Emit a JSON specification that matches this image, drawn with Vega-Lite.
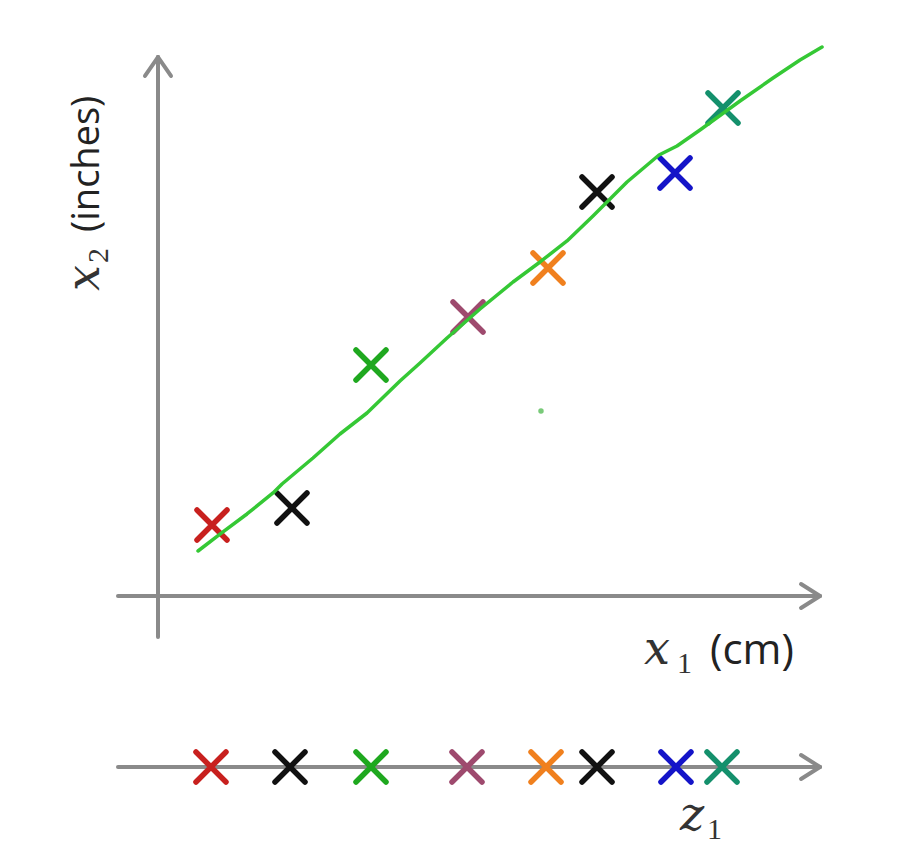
{
  "$schema": "https://vega.github.io/schema/vega-lite/v6.json",
  "width": 913,
  "height": 853,
  "autosize": {"type": "fit", "contains": "padding"},
  "padding": 0,
  "background": "white",
  "config": {"view": {"stroke": null}},
  "data": {"values": [{}]},
  "datasets": {
    "pts": [
      {"x1": 0.9, "x2": 1.183, "c": "red"},
      {"x1": 2.233, "x2": 1.467, "c": "black"},
      {"x1": 3.55, "x2": 3.85, "c": "green"},
      {"x1": 5.167, "x2": 4.65, "c": "mauve"},
      {"x1": 6.5, "x2": 5.467, "c": "orange"},
      {"x1": 7.317, "x2": 6.733, "c": "black"},
      {"x1": 8.617, "x2": 7.05, "c": "blue"},
      {"x1": 9.417, "x2": 8.133, "c": "teal"}
    ],
    "proj": [
      {"z1": 0.883, "c": "red"},
      {"z1": 2.2, "c": "black"},
      {"z1": 3.55, "c": "green"},
      {"z1": 5.15, "c": "mauve"},
      {"z1": 6.467, "c": "orange"},
      {"z1": 7.317, "c": "black"},
      {"z1": 8.633, "c": "blue"},
      {"z1": 9.4, "c": "teal"}
    ],
    "curve": [
      {"i": 0, "x1": 0.667, "x2": 0.75},
      {"i": 1, "x1": 1.033, "x2": 1.033},
      {"i": 2, "x1": 1.483, "x2": 1.367},
      {"i": 3, "x1": 1.917, "x2": 1.717},
      {"i": 4, "x1": 2.067, "x2": 1.867},
      {"i": 5, "x1": 2.583, "x2": 2.3},
      {"i": 6, "x1": 3.033, "x2": 2.7},
      {"i": 7, "x1": 3.483, "x2": 3.05},
      {"i": 8, "x1": 4.033, "x2": 3.583},
      {"i": 9, "x1": 4.367, "x2": 3.883},
      {"i": 10, "x1": 4.817, "x2": 4.3},
      {"i": 11, "x1": 5.367, "x2": 4.783},
      {"i": 12, "x1": 5.917, "x2": 5.233},
      {"i": 13, "x1": 6.367, "x2": 5.567},
      {"i": 14, "x1": 6.817, "x2": 5.917},
      {"i": 15, "x1": 7.25, "x2": 6.333},
      {"i": 16, "x1": 7.817, "x2": 6.9},
      {"i": 17, "x1": 8.35, "x2": 7.35},
      {"i": 18, "x1": 8.65, "x2": 7.5},
      {"i": 19, "x1": 9.033, "x2": 7.767},
      {"i": 20, "x1": 9.7, "x2": 8.25},
      {"i": 21, "x1": 10.25, "x2": 8.633},
      {"i": 22, "x1": 10.7, "x2": 8.933},
      {"i": 23, "x1": 11.067, "x2": 9.15}
    ]
  },
  "layer": [
    {
      "mark": {"type": "rule", "color": "#8a8a8a", "strokeWidth": 4, "strokeCap": "round"},
      "encoding": {
        "x": {"datum": 0, "type": "quantitative", "scale": {"domain": [-2.6333, 12.5833], "nice": false, "zero": false}, "axis": null},
        "y": {"datum": -0.683, "type": "quantitative", "scale": {"domain": [-4.2833, 9.9333], "nice": false, "zero": false}, "axis": null},
        "x2": {"datum": 0},
        "y2": {"datum": 8.983}
      }
    },
    {
      "mark": {"type": "rule", "color": "#8a8a8a", "strokeWidth": 4, "strokeCap": "round"},
      "encoding": {
        "x": {"datum": -0.2167, "type": "quantitative", "scale": {"domain": [-2.6333, 12.5833], "nice": false, "zero": false}, "axis": null},
        "y": {"datum": 8.667, "type": "quantitative", "scale": {"domain": [-4.2833, 9.9333], "nice": false, "zero": false}, "axis": null},
        "x2": {"datum": 0},
        "y2": {"datum": 8.983}
      }
    },
    {
      "mark": {"type": "rule", "color": "#8a8a8a", "strokeWidth": 4, "strokeCap": "round"},
      "encoding": {
        "x": {"datum": 0.2167, "type": "quantitative", "scale": {"domain": [-2.6333, 12.5833], "nice": false, "zero": false}, "axis": null},
        "y": {"datum": 8.667, "type": "quantitative", "scale": {"domain": [-4.2833, 9.9333], "nice": false, "zero": false}, "axis": null},
        "x2": {"datum": 0},
        "y2": {"datum": 8.983}
      }
    },
    {
      "mark": {"type": "rule", "color": "#8a8a8a", "strokeWidth": 4, "strokeCap": "round"},
      "encoding": {
        "x": {"datum": -0.667, "type": "quantitative", "scale": {"domain": [-2.6333, 12.5833], "nice": false, "zero": false}, "axis": null},
        "y": {"datum": 0, "type": "quantitative", "scale": {"domain": [-4.2833, 9.9333], "nice": false, "zero": false}, "axis": null},
        "x2": {"datum": 11.033},
        "y2": {"datum": 0}
      }
    },
    {
      "mark": {"type": "rule", "color": "#8a8a8a", "strokeWidth": 4, "strokeCap": "round"},
      "encoding": {
        "x": {"datum": 10.717, "type": "quantitative", "scale": {"domain": [-2.6333, 12.5833], "nice": false, "zero": false}, "axis": null},
        "y": {"datum": 0.2, "type": "quantitative", "scale": {"domain": [-4.2833, 9.9333], "nice": false, "zero": false}, "axis": null},
        "x2": {"datum": 11.033},
        "y2": {"datum": 0}
      }
    },
    {
      "mark": {"type": "rule", "color": "#8a8a8a", "strokeWidth": 4, "strokeCap": "round"},
      "encoding": {
        "x": {"datum": 10.717, "type": "quantitative", "scale": {"domain": [-2.6333, 12.5833], "nice": false, "zero": false}, "axis": null},
        "y": {"datum": -0.2, "type": "quantitative", "scale": {"domain": [-4.2833, 9.9333], "nice": false, "zero": false}, "axis": null},
        "x2": {"datum": 11.033},
        "y2": {"datum": 0}
      }
    },
    {
      "mark": {"type": "rule", "color": "#8a8a8a", "strokeWidth": 4, "strokeCap": "round"},
      "encoding": {
        "x": {"datum": -0.667, "type": "quantitative", "scale": {"domain": [-2.6333, 12.5833], "nice": false, "zero": false}, "axis": null},
        "y": {"datum": -2.85, "type": "quantitative", "scale": {"domain": [-4.2833, 9.9333], "nice": false, "zero": false}, "axis": null},
        "x2": {"datum": 11.033},
        "y2": {"datum": -2.85}
      }
    },
    {
      "mark": {"type": "rule", "color": "#8a8a8a", "strokeWidth": 4, "strokeCap": "round"},
      "encoding": {
        "x": {"datum": 10.717, "type": "quantitative", "scale": {"domain": [-2.6333, 12.5833], "nice": false, "zero": false}, "axis": null},
        "y": {"datum": -2.65, "type": "quantitative", "scale": {"domain": [-4.2833, 9.9333], "nice": false, "zero": false}, "axis": null},
        "x2": {"datum": 11.033},
        "y2": {"datum": -2.85}
      }
    },
    {
      "mark": {"type": "rule", "color": "#8a8a8a", "strokeWidth": 4, "strokeCap": "round"},
      "encoding": {
        "x": {"datum": 10.717, "type": "quantitative", "scale": {"domain": [-2.6333, 12.5833], "nice": false, "zero": false}, "axis": null},
        "y": {"datum": -3.05, "type": "quantitative", "scale": {"domain": [-4.2833, 9.9333], "nice": false, "zero": false}, "axis": null},
        "x2": {"datum": 11.033},
        "y2": {"datum": -2.85}
      }
    },
    {
      "data": {"name": "pts"},
      "mark": {"type": "point", "shape": "M-1,-1L1,1M-1,1L1,-1", "filled": false, "size": 900, "strokeWidth": 5.5, "strokeCap": "round", "opacity": 1},
      "encoding": {
        "x": {"field": "x1", "type": "quantitative", "scale": {"domain": [-2.6333, 12.5833], "nice": false, "zero": false}, "axis": null},
        "y": {"field": "x2", "type": "quantitative", "scale": {"domain": [-4.2833, 9.9333], "nice": false, "zero": false}, "axis": null},
        "color": {"field": "c", "type": "nominal", "legend": null, "scale": {"domain": ["red", "black", "green", "mauve", "orange", "blue", "teal"], "range": ["#c8201e", "#111111", "#1fa81f", "#9e4a6e", "#f0801e", "#1414c8", "#14906c"]}}
      }
    },
    {
      "data": {"name": "proj"},
      "mark": {"type": "point", "shape": "M-1,-1L1,1M-1,1L1,-1", "filled": false, "size": 900, "strokeWidth": 5.5, "strokeCap": "round", "opacity": 1},
      "encoding": {
        "x": {"field": "z1", "type": "quantitative", "scale": {"domain": [-2.6333, 12.5833], "nice": false, "zero": false}, "axis": null},
        "y": {"datum": -2.85, "type": "quantitative", "scale": {"domain": [-4.2833, 9.9333], "nice": false, "zero": false}, "axis": null},
        "color": {"field": "c", "type": "nominal", "legend": null, "scale": {"domain": ["red", "black", "green", "mauve", "orange", "blue", "teal"], "range": ["#c8201e", "#111111", "#1fa81f", "#9e4a6e", "#f0801e", "#1414c8", "#14906c"]}}
      }
    },
    {
      "data": {"name": "curve"},
      "mark": {"type": "line", "color": "#35c835", "strokeWidth": 3.5, "strokeCap": "round", "strokeJoin": "round"},
      "encoding": {
        "x": {"field": "x1", "type": "quantitative", "scale": {"domain": [-2.6333, 12.5833], "nice": false, "zero": false}, "axis": null},
        "y": {"field": "x2", "type": "quantitative", "scale": {"domain": [-4.2833, 9.9333], "nice": false, "zero": false}, "axis": null},
        "order": {"field": "i", "type": "quantitative"}
      }
    },
    {
      "mark": {"type": "point", "filled": true, "shape": "circle", "size": 30, "color": "#4cb84c", "opacity": 0.75},
      "encoding": {
        "x": {"datum": 6.383, "type": "quantitative", "scale": {"domain": [-2.6333, 12.5833], "nice": false, "zero": false}, "axis": null},
        "y": {"datum": 3.083, "type": "quantitative", "scale": {"domain": [-4.2833, 9.9333], "nice": false, "zero": false}, "axis": null}
      }
    },
    {
      "mark": {"type": "text", "text": "x", "font": "DejaVu Serif", "fontStyle": "italic", "fontSize": 46, "angle": 270, "align": "left", "baseline": "alphabetic", "color": "#333333"},
      "encoding": {
        "x": {"datum": -0.983, "type": "quantitative", "scale": {"domain": [-2.6333, 12.5833], "nice": false, "zero": false}, "axis": null},
        "y": {"datum": 5.083, "type": "quantitative", "scale": {"domain": [-4.2833, 9.9333], "nice": false, "zero": false}, "axis": null}
      }
    },
    {
      "mark": {"type": "text", "text": "2", "font": "Liberation Serif", "fontSize": 30, "angle": 270, "align": "left", "baseline": "alphabetic", "color": "#333333"},
      "encoding": {
        "x": {"datum": -0.833, "type": "quantitative", "scale": {"domain": [-2.6333, 12.5833], "nice": false, "zero": false}, "axis": null},
        "y": {"datum": 5.55, "type": "quantitative", "scale": {"domain": [-4.2833, 9.9333], "nice": false, "zero": false}, "axis": null}
      }
    },
    {
      "mark": {"type": "text", "text": "(inches)", "font": "Open Sans", "fontSize": 38, "angle": 270, "align": "left", "baseline": "alphabetic", "color": "#222222"},
      "encoding": {
        "x": {"datum": -0.983, "type": "quantitative", "scale": {"domain": [-2.6333, 12.5833], "nice": false, "zero": false}, "axis": null},
        "y": {"datum": 6.067, "type": "quantitative", "scale": {"domain": [-4.2833, 9.9333], "nice": false, "zero": false}, "axis": null}
      }
    },
    {
      "mark": {"type": "text", "text": "x", "font": "DejaVu Serif", "fontStyle": "italic", "fontSize": 46, "align": "left", "baseline": "alphabetic", "color": "#333333"},
      "encoding": {
        "x": {"datum": 8.1, "type": "quantitative", "scale": {"domain": [-2.6333, 12.5833], "nice": false, "zero": false}, "axis": null},
        "y": {"datum": -1.133, "type": "quantitative", "scale": {"domain": [-4.2833, 9.9333], "nice": false, "zero": false}, "axis": null}
      }
    },
    {
      "mark": {"type": "text", "text": "1", "font": "Liberation Serif", "fontSize": 30, "align": "left", "baseline": "alphabetic", "color": "#333333"},
      "encoding": {
        "x": {"datum": 8.65, "type": "quantitative", "scale": {"domain": [-2.6333, 12.5833], "nice": false, "zero": false}, "axis": null},
        "y": {"datum": -1.283, "type": "quantitative", "scale": {"domain": [-4.2833, 9.9333], "nice": false, "zero": false}, "axis": null}
      }
    },
    {
      "mark": {"type": "text", "text": "(cm)", "font": "Open Sans", "fontSize": 42, "align": "left", "baseline": "alphabetic", "color": "#222222"},
      "encoding": {
        "x": {"datum": 9.2, "type": "quantitative", "scale": {"domain": [-2.6333, 12.5833], "nice": false, "zero": false}, "axis": null},
        "y": {"datum": -1.133, "type": "quantitative", "scale": {"domain": [-4.2833, 9.9333], "nice": false, "zero": false}, "axis": null}
      }
    },
    {
      "mark": {"type": "text", "text": "z", "font": "DejaVu Serif", "fontStyle": "italic", "fontSize": 46, "align": "left", "baseline": "alphabetic", "color": "#333333"},
      "encoding": {
        "x": {"datum": 8.7, "type": "quantitative", "scale": {"domain": [-2.6333, 12.5833], "nice": false, "zero": false}, "axis": null},
        "y": {"datum": -3.9, "type": "quantitative", "scale": {"domain": [-4.2833, 9.9333], "nice": false, "zero": false}, "axis": null}
      }
    },
    {
      "mark": {"type": "text", "text": "1", "font": "Liberation Serif", "fontSize": 30, "align": "left", "baseline": "alphabetic", "color": "#333333"},
      "encoding": {
        "x": {"datum": 9.15, "type": "quantitative", "scale": {"domain": [-2.6333, 12.5833], "nice": false, "zero": false}, "axis": null},
        "y": {"datum": -4.05, "type": "quantitative", "scale": {"domain": [-4.2833, 9.9333], "nice": false, "zero": false}, "axis": null}
      }
    }
  ]
}
